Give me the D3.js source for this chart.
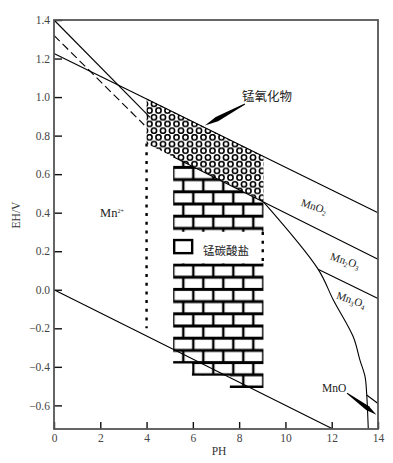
<!DOCTYPE html>
<html>
<head>
<meta charset="utf-8">
<script src="https://cdn.jsdelivr.net/npm/d3@7"></script>
<style>
  body { margin: 0; background: #fff; }
  svg { display: block; }
</style>
</head>
<body>
<svg width="393" height="463"></svg>
<script>
// axis ticks
var phTicks = [0, 2, 4, 6, 8, 10, 12, 14];
var ehTicks = [-0.6, -0.4, -0.2, 0, 0.2, 0.4, 0.6, 0.8, 1.0, 1.2, 1.4];

// stability boundaries, [pH, EH]
var waterUpper = [[0, 1.226], [14, 0.40]];
var waterLower = [[0, 0], [12.05, -0.723]];
var mno2Mn = [[0, 1.4], [4.15, 0.895]];
var mno2MnDashed = [[0, 1.32], [3.9, 0.855]];
var mno2Mn2o3 = [[5.15, 0.69], [9.05, 0.456], [14, 0.158]];
var mn2o3Mn3o4 = [[11.41, 0.107], [14, -0.045]];
var mnIonEdge = [[9.05, 0.456], [11.41, 0.107], [12.07, -0.053], [12.93, -0.244],
  [13.22, -0.365], [13.44, -0.451], [13.51, -0.538], [13.58, -0.723]];
var mn3o4Mno = [[13.51, -0.546], [14, -0.59]];
var dottedPh4 = [[4, 0.759], [4, -0.2]];
var dottedPh9 = [[9.02, 0.3], [9.02, 0.137]];

// shaded zones
var oxideZone = [[4, 0.993], [9.05, 0.693], [9.05, 0.456], [4, 0.759]];
var carbonateZone = [[5.15, 0.69], [9.05, 0.456], [9.05, -0.51], [7.6, -0.51],
  [7.6, -0.446], [5.96, -0.446], [5.96, -0.383], [5.15, -0.383]];
var labelWindow = [[5.15, 0.301], [9.05, 0.137]];
var labelBrick = [[5.15, 0.258], [5.97, 0.19]];

var svg = d3.select("svg");
var x = d3.scaleLinear().domain([0, 14]).range([54, 378]);
var y = d3.scaleLinear().domain([-0.7226, 1.4]).range([429, 20]);
var line = d3.line().x((d) => x(d[0])).y((d) => y(d[1]));
var serif = "'Liberation Serif', 'DejaVu Serif', serif";
var cjk = "'Noto Sans CJK SC', sans-serif";

var defs = svg.append("defs");

// brick texture
var brick = defs.append("pattern")
  .attr("id", "brick")
  .attr("patternUnits", "userSpaceOnUse")
  .attr("x", 3.3).attr("y", 8.8)
  .attr("width", 20).attr("height", 24.4);
brick.append("rect").attr("width", 20).attr("height", 24.4).attr("fill", "#fff");
[0, 12.2, 24.4].forEach(function (h) {
  brick.append("line").attr("x1", 0).attr("x2", 20).attr("y1", h).attr("y2", h)
    .attr("stroke", "#000").attr("stroke-width", 3);
});
[[0, 0, 12.2], [20, 0, 12.2], [10, 12.2, 24.4]].forEach(function (v) {
  brick.append("line").attr("x1", v[0]).attr("x2", v[0]).attr("y1", v[1]).attr("y2", v[2])
    .attr("stroke", "#000").attr("stroke-width", 2.4);
});

// circle texture
var rings = defs.append("pattern")
  .attr("id", "rings")
  .attr("patternUnits", "userSpaceOnUse")
  .attr("x", 1).attr("y", 0)
  .attr("width", 9).attr("height", 13.4);
rings.append("rect").attr("width", 9).attr("height", 13.4).attr("fill", "#fff");
[[4.5, 3.35], [0, 10.05], [9, 10.05]].forEach(function (c) {
  rings.append("circle").attr("cx", c[0]).attr("cy", c[1]).attr("r", 2.6)
    .attr("fill", "none").attr("stroke", "#000").attr("stroke-width", 1.6);
});

svg.append("path").datum(oxideZone)
  .attr("d", (d) => line(d) + "Z")
  .attr("fill", "url(#rings)");

svg.append("path").datum(carbonateZone)
  .attr("d", (d) => line(d) + "Z")
  .attr("fill", "url(#brick)");

// white window for the carbonate label
svg.append("rect")
  .attr("x", x(labelWindow[0][0]) - 0.5)
  .attr("y", y(labelWindow[0][1]))
  .attr("width", x(labelWindow[1][0]) - x(labelWindow[0][0]) + 2)
  .attr("height", y(labelWindow[1][1]) - y(labelWindow[0][1]))
  .attr("fill", "#fff");
svg.append("rect")
  .attr("x", x(labelBrick[0][0]) + 1)
  .attr("y", y(labelBrick[0][1]))
  .attr("width", x(labelBrick[1][0]) - x(labelBrick[0][0]) - 1)
  .attr("height", y(labelBrick[1][1]) - y(labelBrick[0][1]))
  .attr("fill", "none").attr("stroke", "#000").attr("stroke-width", 2.4);

// boundary lines
[waterUpper, waterLower, mno2Mn, mno2Mn2o3, mn2o3Mn3o4, mn3o4Mno].forEach(function (d) {
  svg.append("path").datum(d).attr("d", line)
    .attr("fill", "none").attr("stroke", "#000").attr("stroke-width", 1.1);
});
svg.append("path").datum(mnIonEdge)
  .attr("d", line.curve(d3.curveCatmullRom))
  .attr("fill", "none").attr("stroke", "#000").attr("stroke-width", 1.1);
line.curve(d3.curveLinear);

svg.append("path").datum(mno2MnDashed).attr("d", line)
  .attr("fill", "none").attr("stroke", "#000").attr("stroke-width", 1.1)
  .attr("stroke-dasharray", "8,4");

[dottedPh4, dottedPh9].forEach(function (d) {
  svg.append("path").datum(d).attr("d", line)
    .attr("fill", "none").attr("stroke", "#000").attr("stroke-width", 2.4)
    .attr("stroke-dasharray", "3,5.7");
});

// axes
var yAxis = svg.append("g")
  .attr("transform", "translate(" + x(0) + ",0)")
  .call(d3.axisLeft(y).tickValues(ehTicks).tickFormat(d3.format(".1f"))
    .tickSizeInner(-8).tickSizeOuter(0).tickPadding(4));
var xAxis = svg.append("g")
  .attr("transform", "translate(0," + y.range()[0] + ")")
  .call(d3.axisBottom(x).tickValues(phTicks).tickFormat(d3.format("d"))
    .tickSizeInner(-7).tickSizeOuter(0).tickPadding(5));
[yAxis, xAxis].forEach(function (g) {
  g.select(".domain").remove();
  g.selectAll(".tick line").attr("stroke", "#111").attr("stroke-width", 1.4);
  g.selectAll(".tick text").attr("fill", "#444")
    .style("font-family", serif).style("font-size", "11.5px");
});

// frame
svg.append("rect")
  .attr("x", x(0)).attr("y", y(1.4))
  .attr("width", x(14) - x(0)).attr("height", y.range()[0] - y(1.4))
  .attr("fill", "none").attr("stroke", "#555").attr("stroke-width", 1.8);

// axis titles
svg.append("text")
  .attr("transform", "translate(20,215) rotate(-90)")
  .attr("text-anchor", "middle")
  .style("font-family", serif).style("font-size", "11.5px").attr("fill", "#333")
  .text("EH/V");
svg.append("text")
  .attr("x", 219).attr("y", 455)
  .attr("text-anchor", "middle")
  .style("font-family", serif).style("font-size", "11.5px").attr("fill", "#333")
  .text("PH");

// zone labels
function formula(px, py, parts, angle, anchor, size) {
  var t = svg.append("text")
    .attr("transform", "translate(" + x(px) + "," + y(py) + ") rotate(" + (angle || 0) + ")")
    .attr("text-anchor", anchor || "middle")
    .style("font-family", serif).style("font-size", (size || 11) + "px").attr("fill", "#222");
  parts.forEach(function (p) {
    var s = t.append("tspan").text(p[0]);
    if (p[1] === "sub") s.attr("dy", 2.5).style("font-size", "7px");
    if (p[1] === "sup") s.attr("dy", -4).style("font-size", "6px");
    if (p[1] === "back") s.attr("dy", -2.5);
  });
  return t;
}
formula(11.19, 0.415, [["MnO"], ["2", "sub"]], 18);
formula(12.53, 0.133, [["Mn"], ["2", "sub"], ["O", "back"], ["3", "sub"]], 18);
formula(12.79, -0.07, [["Mn"], ["3", "sub"], ["O", "back"], ["4", "sub"]], 18);
formula(1.99, 0.377, [["Mn"], ["2+", "sup"]], 0, "start", 12.5);
formula(11.58, -0.528, [["MnO"]], 0, "start", 11.5);

svg.append("text")
  .attr("x", x(8.12)).attr("y", y(0.979))
  .style("font-family", cjk).style("font-size", "12.5px").attr("fill", "#222")
  .text("锰氧化物");
svg.append("text")
  .attr("x", x(7.43)).attr("y", y(0.18))
  .attr("text-anchor", "middle")
  .style("font-family", cjk).style("font-size", "11.5px").attr("fill", "#222")
  .text("锰碳酸盐");

// pointer arrows
function arrow(from, to, w) {
  var x0 = x(from[0]), y0 = y(from[1]), x1 = x(to[0]), y1 = y(to[1]);
  var dx = x1 - x0, dy = y1 - y0, len = Math.hypot(dx, dy);
  var nx = -dy / len, ny = dx / len;
  var mx = x0 + dx * 0.7, my = y0 + dy * 0.7;
  var pts = [[x0 + nx * 0.5, y0 + ny * 0.5], [mx + nx * w, my + ny * w], [x1, y1],
    [mx - nx * w, my - ny * w], [x0 - nx * 0.5, y0 - ny * 0.5]];
  svg.append("path").attr("d", d3.line()(pts) + "Z").attr("fill", "#000");
}
arrow([8.25, 0.964], [6.52, 0.852], 2.5);
arrow([12.66, -0.536], [13.93, -0.648], 2.4);
</script>
</body>
</html>
